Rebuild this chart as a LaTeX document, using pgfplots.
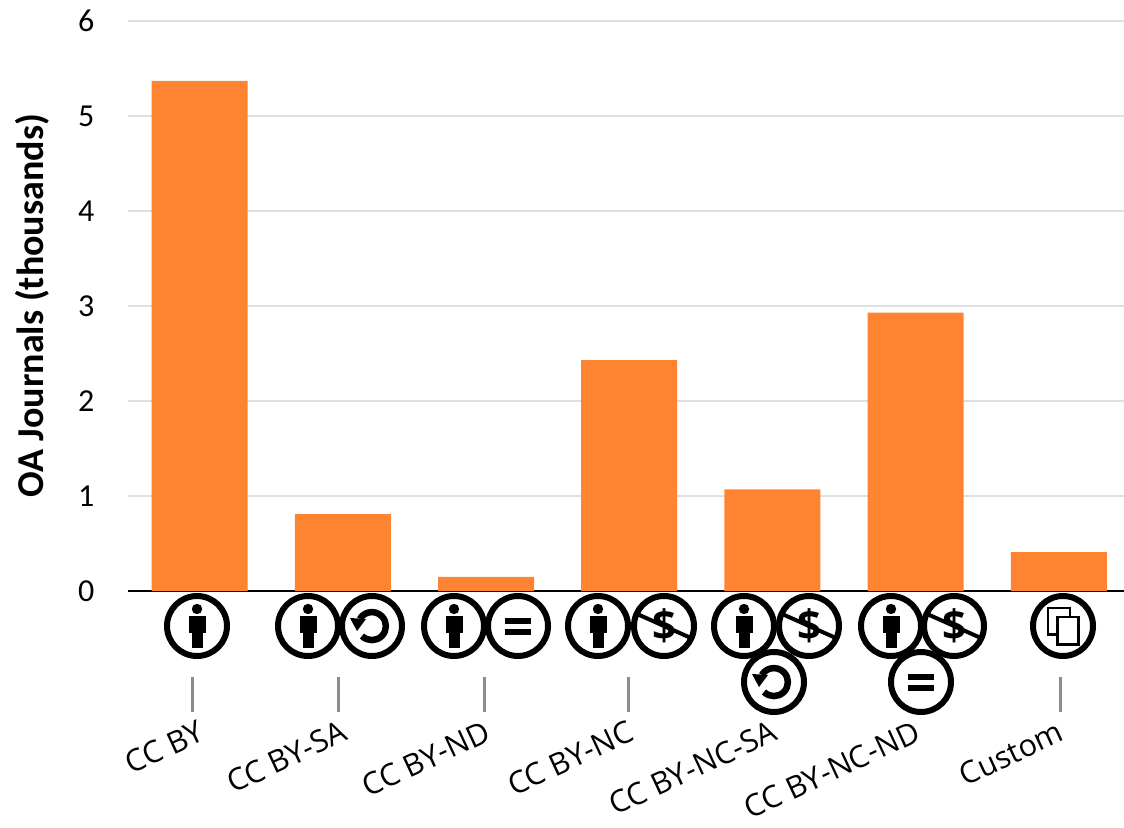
\documentclass[border=0pt]{standalone}
\usepackage{fontspec}
\setmainfont{Carlito}
\newfontfamily\labfont{Open Sans}
\newfontfamily\dollarfont{Open Sans}
\usepackage{pgfplots}
\pgfplotsset{compat=1.18}
\definecolor{oabar}{HTML}{FF8431}
\definecolor{oagrid}{HTML}{DFDFDF}
\definecolor{oatick}{HTML}{8C8C8C}

% licence badges, 1pt = 1px of the reference, origin at the axis corner
\newcommand{\badge}[3]{\begin{scope}[shift={(#1pt-128pt,591pt-#2pt)},x=1pt,y=1pt]
  \draw[line width=6pt,fill=white] (0,0) circle (30);
  #3
\end{scope}}
\newcommand{\person}{\fill (0,17) circle (5.2);
  \fill (-8.5,10) rectangle (8.5,-6.5);
  \fill (-5.5,0) rectangle (5.5,-22);}
\newcommand{\share}{\draw[line width=6.5pt] (-10,-10) arc (-135:150:14);
  \fill (-22,8) -- (-6,7) -- (-15,-5) -- cycle;}
\newcommand{\noderiv}{\fill (-13,8) rectangle (13,2.3);
  \fill (-13,-3.3) rectangle (13,-9);}
\newcommand{\nocomm}{\node[inner sep=0pt] at (0,0) {\dollarfont\bfseries\fontsize{42}{42}\selectfont\$};
  \draw[line width=4pt] (-28,12.5) -- (28,-12.5);}
\newcommand{\custom}{\draw[line width=2.6pt] (-15,18) rectangle (7,-8.7);
  \draw[line width=2.6pt,fill=white] (-5.4,9) rectangle (15.5,-18.7);}
\newcommand{\gtick}[1]{\draw[oatick,line width=3pt] (#1pt-128pt,591pt-677pt) -- (#1pt-128pt,591pt-712pt);}

\begin{document}
\begin{tikzpicture}
\path[use as bounding box] (-128pt,-236pt) rectangle (996pt,591pt);
\begin{axis}[
    at={(0pt,0pt)}, anchor=south west,
    scale only axis, width=996pt, height=570pt,
    ybar, bar width=96pt, bar shift=0pt,
    xmin=-0.5, xmax=6.455, ymin=0, ymax=6,
    ytick={0,1,2,3,4,5,6},
    ymajorgrids,
    grid style={oagrid,line width=2.4pt},
    axis x line=bottom, axis y line=left,
    x axis line style={black,line width=2pt,-},
    y axis line style={draw=none},
    major tick length=0pt,
    xtick={0,1,2,3,4,5,6},
    xticklabels={CC BY,CC BY-SA,CC BY-ND,CC BY-NC,CC BY-NC-SA,CC BY-NC-ND,Custom},
    xticklabel style={xshift=-1pt,yshift=-124pt,rotate=25,anchor=north east,
      font=\labfont\fontsize{30.5}{33}\selectfont},
    yticklabel style={font=\fontsize{32}{34}\selectfont,xshift=-30pt},
    /pgf/number format/assume math mode=true,
    ylabel={OA Journals (thousands)},
    every axis y label/.style={at={(-96pt,285pt)},rotate=90,anchor=center,
      font=\bfseries\fontsize{38}{40}\selectfont},
    clip=false,
  ]
  \addplot[fill=oabar,draw=none] coordinates {(0,5.37) (1,0.81) (2,0.15) (3,2.43) (4,1.07) (5,2.93) (6,0.41)};
\end{axis}
\gtick{192}\gtick{338}\gtick{484}\gtick{628}\gtick{1060}
\badge{197}{626}{\person}
\badge{308}{626}{\person}
\badge{372}{626}{\share}
\badge{454}{626}{\person}
\badge{518}{626}{\noderiv}
\badge{598}{626}{\person}
\badge{664}{626}{\nocomm}
\badge{744}{626}{\person}
\badge{809}{626}{\nocomm}
\badge{774}{682}{\share}
\badge{891}{626}{\person}
\badge{954}{626}{\nocomm}
\badge{921}{682}{\noderiv}
\badge{1063}{626}{\custom}
\end{tikzpicture}
\end{document}
